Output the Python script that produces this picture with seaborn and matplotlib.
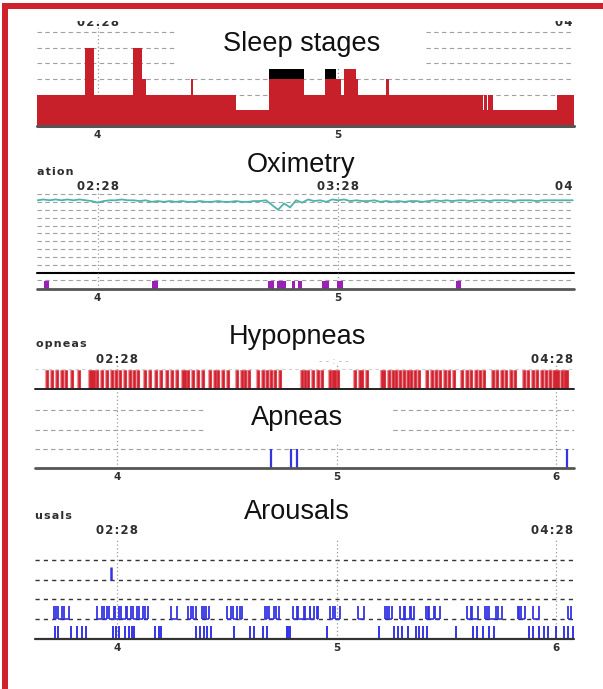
import numpy as np
import matplotlib
matplotlib.use("Agg")
import matplotlib.pyplot as plt
import matplotlib.transforms as mtransforms
from matplotlib.patches import Rectangle
import seaborn as sns

# ---------------- data ----------------
# Hypnogram: hour at which each stage starts and its depth level
stage_start_h = [3.748, 3.948, 3.985, 4.145, 4.185, 4.200, 4.388, 4.396, 4.575,
                 4.712, 4.856, 4.944, 5.013, 5.024, 5.072, 5.083, 5.200, 5.211,
                 5.600, 5.606, 5.617, 5.623, 5.644, 5.911]
stage_level = [2, 5, 2, 5, 3, 2, 3, 2, 1,
               3, 2, 3, 2, 3.65, 3, 2, 3, 2,
               1, 2, 1, 2, 1, 2]
stage_end_h = 5.98
rem_start_h = [4.712, 4.944]
rem_end_h = [4.856, 4.992]

# Oximetry: SpO2 samples (%) every 0.025 h from 3.75 h
spo2_start_h = 3.75
spo2_step_h = 0.025
spo2_pct = [96, 96.5, 96, 96.5, 96, 96.5, 96, 96.5, 96, 95.5,
            94.5, 95.5, 96, 96, 96.5, 96, 96, 95.5, 96, 95,
            95.5, 95, 95.5, 95, 95.5, 95, 95, 95.5, 95, 95,
            95.5, 95, 95, 95.5, 95, 95, 95.5, 95.5, 96, 93,
            90, 94, 91.5, 96, 94.5, 96.5, 95.5, 96, 95, 96.5,
            96, 96.5, 95.5, 96, 95.5, 95.5, 96, 95, 95.5, 95,
            95.5, 95, 95.5, 95.5, 95, 95.5, 96, 95.5, 96, 95.5,
            96, 96, 95.5, 96, 96, 95.5, 96, 96, 96, 95.5,
            96, 96, 96, 95.5, 96, 96, 96, 96, 96, 96]
desat_start_h = [3.777, 4.224, 4.707, 4.747, 4.808, 4.832, 4.931, 4.997, 5.488]
desat_dur_h = [0.021, 0.027, 0.024, 0.037, 0.013, 0.016, 0.029, 0.024, 0.024]

# Respiratory events (hours)
hypopnea_h = [3.682, 3.705, 3.727, 3.750, 3.768, 3.795, 3.827, 3.877, 3.886, 3.895,
              3.909, 3.932, 3.955, 3.977, 3.995, 4.014, 4.036, 4.059, 4.077, 4.095,
              4.127, 4.150, 4.177, 4.200, 4.227, 4.250, 4.273, 4.300, 4.309, 4.323,
              4.345, 4.368, 4.391, 4.423, 4.445, 4.459, 4.482, 4.505, 4.545, 4.568,
              4.582, 4.600, 4.641, 4.664, 4.682, 4.700, 4.718, 4.741, 4.841, 4.855,
              4.868, 4.891, 4.914, 4.932, 4.968, 4.982, 4.995, 5.005, 5.082, 5.105,
              5.118, 5.141, 5.205, 5.218, 5.241, 5.255, 5.273, 5.291, 5.309, 5.327,
              5.341, 5.359, 5.377, 5.414, 5.436, 5.455, 5.473, 5.495, 5.514, 5.536,
              5.573, 5.595, 5.614, 5.636, 5.655, 5.673, 5.714, 5.732, 5.755, 5.773,
              5.795, 5.814, 5.855, 5.873, 5.895, 5.914, 5.936, 5.955, 5.973, 5.991,
              6.000, 6.009, 6.027, 6.041, 6.050]
apnea_h = [4.702, 4.793, 4.819, 6.049]

# Arousals: upper-row intervals (start, end) and lower-row marks, hours
arousal_start_h = [3.711, 3.733, 3.758, 3.909, 3.939, 3.965, 3.991, 4.018, 4.047, 4.074,
                   4.100, 4.126, 4.246, 4.325, 4.346, 4.386, 4.404, 4.500, 4.526, 4.561,
                   4.672, 4.693, 4.723, 4.802, 4.825, 4.854, 4.881, 4.909, 4.968, 4.991,
                   5.096, 5.219, 5.237, 5.289, 5.312, 5.337, 5.407, 5.421, 5.447, 5.596,
                   5.618, 5.675, 5.693, 5.737, 5.825, 5.842, 5.895, 6.053]
arousal_end_h = [3.723, 3.751, 3.781, 3.933, 3.956, 3.986, 4.009, 4.039, 4.065, 4.091,
                 4.118, 4.140, 4.272, 4.337, 4.360, 4.395, 4.421, 4.518, 4.547, 4.570,
                 4.684, 4.714, 4.740, 4.821, 4.851, 4.877, 4.898, 4.916, 4.982, 5.014,
                 5.123, 5.228, 5.254, 5.307, 5.333, 5.354, 5.416, 5.442, 5.470, 5.614,
                 5.646, 5.684, 5.728, 5.754, 5.833, 5.860, 5.921, 6.070]
arousal_low_h = [3.719, 3.733, 3.789, 3.816, 3.842, 3.860, 3.982, 3.996, 4.009, 4.035,
                 4.053, 4.067, 4.079, 4.175, 4.189, 4.198, 4.360, 4.377, 4.395, 4.412,
                 4.430, 4.535, 4.605, 4.623, 4.667, 4.681, 4.772, 4.781, 4.789, 4.956,
                 5.193, 5.263, 5.281, 5.298, 5.325, 5.360, 5.377, 5.395, 5.412, 5.544,
                 5.623, 5.640, 5.667, 5.693, 5.719, 5.877, 5.895, 5.921, 5.947, 5.965,
                 6.000, 6.035, 6.053, 6.079]
arousal_high_h = [3.974]

hour_ticks = [4, 5, 6]
hour_labels = ["4", "5", "6"]
clock_labels = ["02:28", "03:28", "04:28"]

# ---------------- style ----------------
sns.set_style("white")
plt.rcParams["font.family"] = ["DejaVu Sans"]

RED = "#c8202a"
RED_BAR = "#d2202e"
TEAL = "#4fb3ab"
PURPLE = "#9c20b8"
BLUE = "#3434e6"
GRID = "#a0a0a0"
DOT = "#9a9a9a"
TXT = "#2e2e2e"
TITLE_FONT = "Liberation Sans"

W, H = 603, 689
fig = plt.figure(figsize=(W / 100, H / 100), dpi=100)
fig.patch.set_facecolor("white")


def add_ax(left, top, right, bottom):
    return fig.add_axes([left / W, 1 - bottom / H, (right - left) / W, (bottom - top) / H])


def fy(ypx):
    return 1 - ypx / H


def fx(xpx):
    return xpx / W


def clean(ax, xlim, ylim):
    ax.set_xlim(*xlim)
    ax.set_ylim(*ylim)
    for s in ax.spines.values():
        s.set_visible(False)
    ax.set_yticks([])
    ax.set_xticks([])
    ax.set_xlabel("")
    ax.set_ylabel("")
    ax.patch.set_alpha(0)


def hgrid(ax, levels, color=GRID, lw=0.8, dash=(4, 3)):
    for lv in levels:
        ax.axhline(lv, color=color, lw=lw, ls=(0, dash), zorder=0.5)


def vdots(ax, hours):
    for h in hours:
        ax.axvline(h, color=DOT, lw=0.9, ls=(0, (1, 2)), zorder=0.6)


def hour_axis(ax, n, pad=2):
    ax.set_xticks(hour_ticks[:n])
    ax.set_xticklabels(hour_labels[:n], fontsize=7.5, fontweight="bold", color=TXT)
    ax.tick_params(axis="x", length=0, pad=pad)


def spaced(s):
    return "\u200a".join(s)


def clock(ax, idx, ypx, text=None, ha="center", xh=None):
    tr = mtransforms.blended_transform_factory(ax.transData, fig.transFigure)
    ax.text(hour_ticks[idx] if xh is None else xh, fy(ypx), spaced(text or clock_labels[idx]),
            transform=tr, ha=ha, va="center", fontsize=8.5, fontweight="bold",
            color=TXT, clip_on=False, zorder=1)


sleep_xlim = (3.748, 5.98)
resp_xlim = (3.626, 6.082)

# ---------------- Sleep stages ----------------
ax1 = add_ax(37, 25, 574, 126)
clean(ax1, sleep_xlim, (0, 6.45))
hgrid(ax1, [2, 3, 4, 5, 6])
vdots(ax1, [4, 5])
xs = stage_start_h + [stage_end_h]
ys = stage_level + [stage_level[-1]]
ax1.fill_between(xs, 0, ys, step="post", color=RED, lw=0, zorder=2)
for s, e in zip(rem_start_h, rem_end_h):
    ax1.fill_between([s, e], 3, 3.62, color="black", lw=0, zorder=2.5)
ax1.axhline(0, color="#555555", lw=2.2, zorder=3, clip_on=False)
hour_axis(ax1, 2, pad=3)
clock(ax1, 0, 22)
clock(ax1, 2, 22, text="04", ha="right", xh=sleep_xlim[1] - 0.005)

# ---------------- Oximetry ----------------
ax2 = add_ax(37, 190, 574, 273)
clean(ax2, sleep_xlim, (50, 102.5))
hgrid(ax2, range(55, 101, 5))
vdots(ax2, [4, 5])
spo2_t = spo2_start_h + spo2_step_h * np.arange(len(spo2_pct))
sns.lineplot(x=spo2_t, y=spo2_pct, color=TEAL, lw=1.3, ax=ax2, zorder=2)
ax2.set_xlabel("")
ax2.set_ylabel("")
ax2.axhline(50, color="black", lw=1.5, zorder=3, clip_on=False)
clock(ax2, 0, 187)
clock(ax2, 1, 187)
clock(ax2, 2, 187, text="04", ha="right", xh=sleep_xlim[1] - 0.005)

ax2b = add_ax(37, 273, 574, 289)
clean(ax2b, sleep_xlim, (0, 1))
hgrid(ax2b, [0.55])
vdots(ax2b, [4, 5])
ax2b.bar(desat_start_h, 0.47, width=desat_dur_h, align="edge", color=PURPLE, lw=0, zorder=2)
ax2b.axhline(0, color="#555555", lw=2.0, zorder=3, clip_on=False)
hour_axis(ax2b, 2, pad=3)

# ---------------- Hypopneas ----------------
ax3 = add_ax(35, 365, 574, 389)
clean(ax3, resp_xlim, (0, 1))
ax3.axhline(0.85, color="#cfcfcf", lw=0.8, ls=(0, (3, 3)), zorder=0.5)
vdots(ax3, [4, 5, 6])
ax3.vlines(hypopnea_h, 0, 0.8, color="#ec9aa0", lw=3.0, zorder=1.8)
ax3.vlines(hypopnea_h, 0, 0.8, color=RED_BAR, lw=1.8, zorder=2)
ax3.axhline(0, color="#222222", lw=1.4, zorder=3, clip_on=False)
clock(ax3, 0, 359)
clock(ax3, 2, 359, ha="right", xh=resp_xlim[1] - 0.004)

# ---------------- Apneas ----------------
ax4 = add_ax(35, 389, 574, 468)
clean(ax4, resp_xlim, (0, 79 / 19.2))
hgrid(ax4, [1, 2, 3])
vdots(ax4, [4, 5, 6])
ax4.vlines(apnea_h, 0, 1.0, color=BLUE, lw=1.6, zorder=2)
ax4.axhline(0, color="#555555", lw=2.0, zorder=3, clip_on=False)
hour_axis(ax4, 3, pad=3)

# ---------------- Arousals ----------------
ax5 = add_ax(35, 540, 574, 639)
clean(ax5, resp_xlim, (0, 5))
hgrid(ax5, [1, 2, 3, 4], color="#333333", lw=1.0, dash=(3, 3))
vdots(ax5, [4, 5, 6])
ax5.vlines(arousal_start_h, 1, 1.66, color=BLUE, lw=1.3, zorder=2)
ax5.vlines(arousal_end_h, 1, 1.66, color=BLUE, lw=1.3, zorder=2)
ax5.hlines([1] * len(arousal_start_h), arousal_start_h, arousal_end_h, color=BLUE, lw=1.2, zorder=2)
ax5.vlines(arousal_low_h, 0, 0.66, color=BLUE, lw=1.4, zorder=2)
ax5.vlines(arousal_high_h, 3, 3.65, color=BLUE, lw=1.8, zorder=2)
ax5.axhline(0, color="#333333", lw=1.6, zorder=3, clip_on=False)
hour_axis(ax5, 3, pad=3)
clock(ax5, 0, 530)
clock(ax5, 2, 530, ha="right", xh=resp_xlim[1] - 0.004)

# ---------------- panel captions ----------------
def caption_box(l, t, r, b):
    fig.patches.append(Rectangle((fx(l), fy(b)), (r - l) / W, (b - t) / H,
                                 transform=fig.transFigure, facecolor="white",
                                 edgecolor="none", zorder=4))


caption_box(176, 22, 426, 67)
caption_box(206, 392, 390, 443)

title_kw = dict(fontsize=19.5, family=TITLE_FONT, color="#111111", ha="center",
                va="center", zorder=6)
fig.text(fx(302), fy(44), "Sleep stages", **title_kw)
fig.text(fx(301), fy(165), "Oximetry", **title_kw)
fig.text(fx(297), fy(337), "Hypopneas", **title_kw)
fig.text(fx(297), fy(418), "Apneas", **title_kw)
fig.text(fx(297), fy(512), "Arousals", **title_kw)

side_kw = dict(fontsize=8, fontweight="bold", color=TXT, ha="left", va="center", zorder=6)
fig.text(fx(37), fy(172), spaced("ation"), **side_kw)
fig.text(fx(36), fy(344), spaced("opneas"), **side_kw)
fig.text(fx(35), fy(516), spaced("usals"), **side_kw)
fig.text(fx(334), fy(361), "- - : - -", fontsize=7, color="#b8b8b8", ha="center",
         va="center", zorder=6)

# ---------------- frame ----------------
fig.patches.append(Rectangle((0, fy(21)), 1, 21 / H, transform=fig.transFigure,
                             facecolor="white", edgecolor="none", zorder=7))
fig.patches.append(Rectangle((fx(3), fy(9)), 1, 6 / H, transform=fig.transFigure,
                             facecolor="#d0222c", edgecolor="none", zorder=8))
fig.patches.append(Rectangle((fx(2), 0), 6 / W, fy(3), transform=fig.transFigure,
                             facecolor="#d0222c", edgecolor="none", zorder=8))

fig.savefig("out.png", dpi=100, facecolor="white")
